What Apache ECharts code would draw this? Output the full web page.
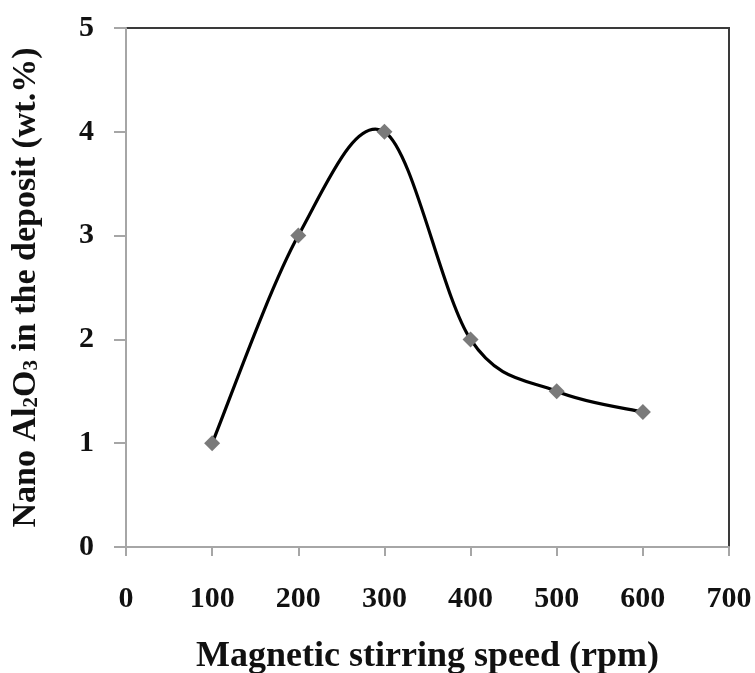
<!DOCTYPE html>
<html>
<head>
<meta charset="utf-8">
<script src="https://cdn.jsdelivr.net/npm/echarts@6/dist/echarts.min.js"></script>
<style>
  html, body { margin: 0; padding: 0; background: #fff; }
  #chart { width: 755px; height: 673px; }
</style>
</head>
<body>
<div id="chart"></div>
<script>
// Stirring speed (rpm) and measured nano Al2O3 content (wt.%)
const speeds = [100, 200, 300, 400, 500, 600];
const contents = [1, 3, 4, 2, 1.5, 1.3];
const xTicks = [0, 100, 200, 300, 400, 500, 600, 700];
const yTicks = [0, 1, 2, 3, 4, 5];

const FONT = '"Liberation Serif", "Times New Roman", serif';
const points = speeds.map((s, i) => [s, contents[i]]);

// Catmull-Rom style smoothed segment between point i and i+1,
// positioned through the axis scales with api.coord.
function renderSegment(params, api) {
  const i = params.dataIndex;
  const n = points.length;
  if (i >= n - 1) return null;
  const at = k => api.coord(points[Math.max(0, Math.min(n - 1, k))]);
  const p0 = at(i - 1), p1 = at(i), p2 = at(i + 1), p3 = at(i + 2);
  const t = 1 / 6;
  return {
    type: 'bezierCurve',
    shape: {
      x1: p1[0], y1: p1[1], x2: p2[0], y2: p2[1],
      cpx1: p1[0] + (p2[0] - p0[0]) * t, cpy1: p1[1] + (p2[1] - p0[1]) * t,
      cpx2: p2[0] - (p3[0] - p1[0]) * t, cpy2: p2[1] - (p3[1] - p1[1]) * t
    },
    style: { stroke: '#000', lineWidth: 3.2, fill: 'none', lineCap: 'round' }
  };
}

const chart = echarts.init(document.getElementById('chart'), null, { renderer: 'canvas' });

chart.setOption({
  animation: false,
  backgroundColor: '#ffffff',
  grid: {
    left: 126, right: 26, top: 28, bottom: 126,
    outerBoundsMode: 'none', containLabel: false,
    show: true, borderColor: '#3a3a3a', borderWidth: 2, backgroundColor: 'transparent'
  },
  xAxis: {
    type: 'value',
    min: xTicks[0], max: xTicks[xTicks.length - 1], interval: 100,
    name: 'Magnetic stirring speed (rpm)',
    nameLocation: 'middle', nameGap: 92,
    nameTextStyle: { fontFamily: FONT, fontWeight: 'bold', fontSize: 36, color: '#111' },
    axisLine: { lineStyle: { color: '#a6a6a6', width: 2 } },
    axisTick: { show: true, length: 9, lineStyle: { color: '#a6a6a6', width: 2 } },
    axisLabel: { margin: 37, fontFamily: FONT, fontWeight: 'bold', fontSize: 30, color: '#111' },
    splitLine: { show: false }
  },
  yAxis: {
    type: 'value',
    min: yTicks[0], max: yTicks[yTicks.length - 1], interval: 1,
    name: '{a|Nano Al}{s|2}{a|O}{s|3}{a| in the deposit (wt.%)}',
    nameLocation: 'middle', nameGap: 83, nameRotate: 90,
    nameTextStyle: {
      rich: {
        a: { fontFamily: FONT, fontWeight: 'bold', fontSize: 34, color: '#111' },
        s: { fontFamily: FONT, fontWeight: 'bold', fontSize: 21, color: '#111', padding: [12, 0, 0, 0] }
      }
    },
    axisLine: { lineStyle: { color: '#a6a6a6', width: 2 } },
    axisTick: { show: true, length: 12, lineStyle: { color: '#a6a6a6', width: 2 } },
    axisLabel: { margin: 32, fontFamily: FONT, fontWeight: 'bold', fontSize: 30, color: '#111' },
    splitLine: { show: false }
  },
  series: [
    {
      type: 'custom',
      data: points,
      encode: { x: 0, y: 1 },
      renderItem: renderSegment,
      z: 2
    },
    {
      type: 'scatter',
      data: points,
      symbol: 'diamond',
      symbolSize: 16,
      itemStyle: { color: '#7a7a7a', opacity: 1 },
      z: 3
    }
  ]
});
</script>
</body>
</html>
